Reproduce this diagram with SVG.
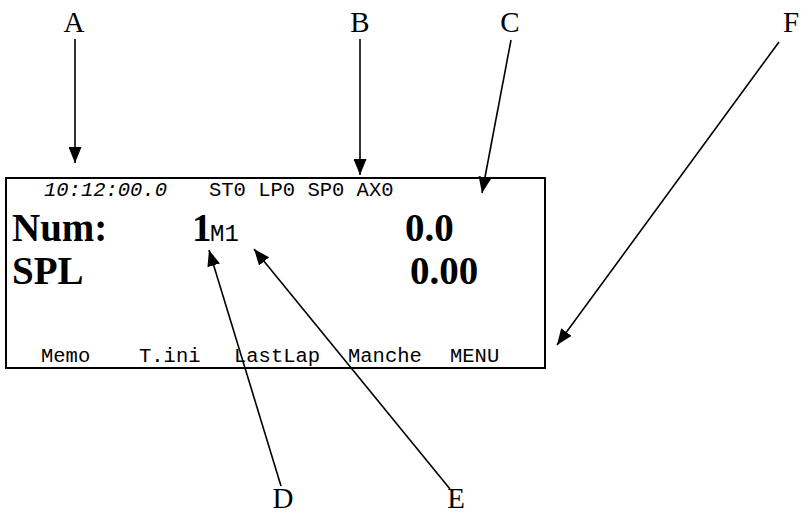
<svg xmlns="http://www.w3.org/2000/svg" width="801" height="514" viewBox="0 0 801 514">
  <defs>
    <marker id="ah" viewBox="0 0 16 13" refX="16" refY="6.5" markerWidth="16" markerHeight="13" markerUnits="userSpaceOnUse" orient="auto">
      <path d="M0,0 L16,6.5 L0,13 Z" fill="#000"/>
    </marker>
    <style>
      .lbl { font-family: "Liberation Serif", "Times New Roman", serif; font-size: 29px; fill: #000; }
      .big { font-family: "Liberation Serif", "Times New Roman", serif; font-size: 39px; font-weight: bold; fill: #000; }
      .mono { font-family: "Liberation Mono", "Courier New", monospace; font-size: 20.5px; fill: #000; }
      .sub { font-size: 24px; }
      .conn line { stroke: #000; stroke-width: 1.6; marker-end: url(#ah); }
    </style>
  </defs>
  <rect width="801" height="514" fill="#fff"/>

  <g id="display">
    <rect x="6" y="178" width="539" height="190" fill="#fff" stroke="#000" stroke-width="2"/>
    <text class="mono" x="44" y="196" font-style="italic">10:12:00.0</text>
    <text class="mono" x="209" y="196">ST0 LP0 SP0 AX0</text>
    <text class="big" x="12" y="241">Num:</text>
    <text class="big" x="192" y="241">1</text>
    <text class="mono sub" x="210" y="241">M1</text>
    <text class="big" x="405" y="241">0.0</text>
    <text class="big" x="12" y="284">SPL</text>
    <text class="big" x="410" y="284">0.00</text>
    <text class="mono" x="41" y="362">Memo</text>
    <text class="mono" x="139" y="362">T.ini</text>
    <text class="mono" x="234" y="362">LastLap</text>
    <text class="mono" x="348" y="362">Manche</text>
    <text class="mono" x="450" y="362">MENU</text>
  </g>

  <g id="label-A"><text class="lbl" x="74" y="32" text-anchor="middle">A</text></g>
  <g id="label-B"><text class="lbl" x="360" y="32" text-anchor="middle">B</text></g>
  <g id="label-C"><text class="lbl" x="510" y="32" text-anchor="middle">C</text></g>
  <g id="label-F"><text class="lbl" x="783" y="32">F</text></g>
  <g id="label-D"><text class="lbl" x="283" y="508" text-anchor="middle">D</text></g>
  <g id="label-E"><text class="lbl" x="456" y="508" text-anchor="middle">E</text></g>

  <g id="connectors" class="conn">
    <line x1="75" y1="39" x2="75" y2="163"/>
    <line x1="360" y1="39" x2="360" y2="175"/>
    <line x1="511" y1="40" x2="482" y2="193"/>
    <line x1="779" y1="42" x2="557" y2="345"/>
    <line x1="281" y1="486" x2="209" y2="250"/>
    <line x1="450" y1="489" x2="254" y2="249"/>
  </g>
</svg>
